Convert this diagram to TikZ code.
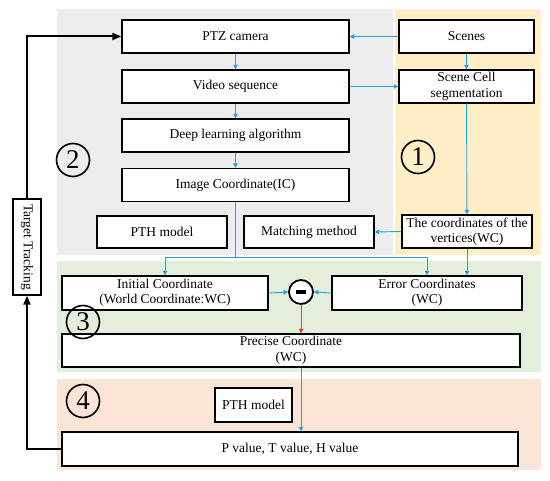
\documentclass[tikz,border=0pt]{standalone}
\usepackage{fontspec}
\setmainfont{Liberation Serif}
\usetikzlibrary{arrows.meta,calc}

\definecolor{panelgray}{RGB}{237,237,237}
\definecolor{panelgold}{RGB}{255,238,198}
\definecolor{panelgreen}{RGB}{226,239,218}
\definecolor{panelrose}{RGB}{251,229,214}
\definecolor{flowblue}{RGB}{36,160,222}
\definecolor{flowred}{RGB}{245,55,45}

\tikzset{
  box/.style={draw, line width=1.4pt, fill=white, rectangle, align=center,
    inner sep=1pt, font=\fontsize{13.5}{15.5}\selectfont},
  numcirc/.style={draw, circle, line width=1.6pt, minimum size=33pt, inner sep=0pt,
    font=\fontsize{27}{27}\selectfont},
  flow/.style={->, draw=flowblue, line width=0.9pt, >={Triangle[width=4.5pt,length=4.5pt]}},
  loopline/.style={->, line width=2pt, >={Triangle[width=7pt,length=9pt]}},
}

\begin{document}
\begin{tikzpicture}[x=1pt, y=-1pt]
  \useasboundingbox (0,0) rectangle (550,481);

  % panels
  \fill[panelgray]  (57,9)   rectangle (393,255);
  \fill[panelgold]  (395,9)  rectangle (541,255);
  \fill[panelgreen] (57,261) rectangle (541,372);
  \fill[panelrose]  (57,379) rectangle (541,470);

  \node[box, minimum width=227pt, minimum height=33pt] (ptz)   at (235.5,36.5) {PTZ camera};
  \node[box, minimum width=227pt, minimum height=33pt] (video) at (235.5,86.5) {Video sequence};
  \node[box, minimum width=227pt, minimum height=33pt] (deep)  at (235.5,135.5) {Deep learning algorithm};
  \node[box, minimum width=227pt, minimum height=33pt] (imgc)  at (235.5,185) {Image Coordinate(IC)};
  \node[box, minimum width=130pt, minimum height=32pt] (pthA)  at (162,232) {PTH model};
  \node[box, minimum width=130pt, minimum height=32pt] (match) at (309,232) {Matching method};

  \node[box, minimum width=135pt, minimum height=33pt] (scenes) at (466.5,36.5) {Scenes};
  \node[box, minimum width=135pt, minimum height=33pt] (cell)   at (466.5,86.5) {Scene Cell\\segmentation};
  \node[box, minimum width=130pt, minimum height=33pt] (vert)   at (467,231.5) {The coordinates of the\\vertices(WC)};

  \node[box, minimum width=206pt, minimum height=34pt] (init) at (165,293) {Initial Coordinate\\(World Coordinate:WC)};
  \node[box, minimum width=190pt, minimum height=34pt] (err)  at (427,293) {Error Coordinates\\(WC)};
  \node[draw, circle, line width=1.8pt, fill=white, minimum size=24pt, inner sep=0pt] (minus) at (301,292) {};
  \fill (minus.center) ++(-5,-2) rectangle ++(10,4);
  \node[box, minimum width=458pt, minimum height=33pt] (prec) at (291,350.5) {Precise Coordinate\\(WC)};

  \node[box, minimum width=77pt, minimum height=34pt]  (pthB) at (253.5,405) {PTH model};
  \node[box, minimum width=456pt, minimum height=34pt] (pval) at (290,449) {P value, T value, H value};

  % rotated: west is the top end, east the bottom end
  \node[box, rotate=-90, minimum width=96pt, minimum height=28pt] (track) at (27,247) {Target Tracking};

  \node[numcirc] (n1) at (418,157) {1};
  \node[numcirc] (n2) at (73,160) {2};
  \node[numcirc] (n3) at (83,322) {3};
  \node[numcirc] (n4) at (83,401) {4};

  \draw[flow] (scenes.west) -- (ptz.east);
  \draw[flow] (ptz) -- (video);
  \draw[flow] (video) -- (deep);
  \draw[flow] (deep) -- (imgc);
  \draw[flow] (video.east) -- (cell.west);
  \draw[flow] (scenes) -- (cell);
  \draw[flow] (cell) -- (vert);
  \draw[flow] (vert.west) -- (match.east);

  \coordinate (split) at (235.5,257);
  \draw[draw=flowblue, line width=0.9pt] (imgc.south) -- (split);
  \draw[flow] (split) -| (init.north);
  \draw[flow] (split) -| (err.north);
  \draw[flow] (vert.south) -- (vert.south |- err.north);
  \draw[flow] (init.east) -- (minus.west);
  \draw[flow] (err.west) -- (minus.east);
  \draw[flow, draw=flowred, fill=flowred] (minus.south) -- (minus.south |- prec.north);
  \draw[flow] (minus |- prec.south) -- (minus |- pval.north);

  \draw[loopline] (pval.west) -| (track.east);
  \draw[loopline] (track.west) |- (ptz.west);
\end{tikzpicture}
\end{document}
